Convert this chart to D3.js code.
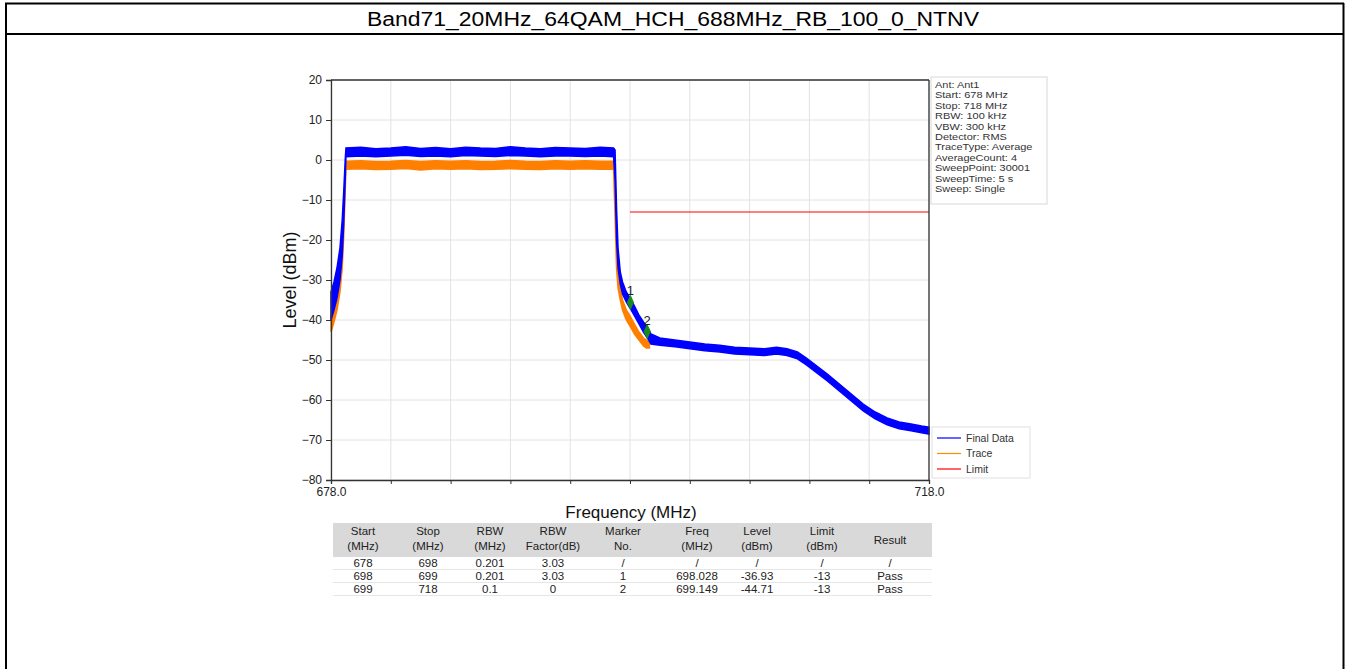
<!DOCTYPE html>
<html><head><meta charset="utf-8">
<script src="https://cdn.jsdelivr.net/npm/d3@7"></script>
<style>
html,body{margin:0;padding:0;background:#fff;}
svg{display:block;font-family:"Liberation Sans",Arial,sans-serif;}
</style></head>
<body><svg id="c" width="1346" height="669"></svg>
<script>
// ---------------- data ----------------
const title = "Band71_20MHz_64QAM_HCH_688MHz_RB_100_0_NTNV";
const yTicks = [-80,-70,-60,-50,-40,-30,-20,-10,0,10,20];
const xTicks = [678,682,686,690,694,698,702,706,710,714,718];
const xTickLabels = ["678.0","","","","","","","","","","718.0"];

// Final Data (blue) envelope of the noisy trace
const blueFreq = [678.0,678.2,678.4,678.6,678.75,678.85,678.95,679.0,680,681,682,683,684,685,686,687,688,689,690,691,692,693,694,695,696,696.9,697.0,697.1,697.2,697.35,697.5,697.75,698.0,698.3,698.6,698.9,699.2,699.4,700,701,702,703,704,705,706,707,707.8,708.5,709.2,709.8,710.5,711.2,712,712.8,713.6,714.4,715.2,716,716.8,717.5,718];
const blueHi = [-33,-30.5,-27,-22,-15,-8,0,3,3.2,2.8,3.0,3.3,2.9,3.1,2.8,3.2,3.0,2.9,3.3,3.0,2.8,3.1,3.0,2.9,3.2,3,2.5,-12,-22,-28,-30.5,-33,-34.5,-36.5,-38.8,-40.5,-42,-43.5,-44.5,-45,-45.5,-46,-46.3,-46.8,-47,-47.2,-46.8,-47.2,-48,-49.5,-51.5,-53.5,-56,-58.5,-61,-63,-64.5,-65.5,-66,-66.5,-66.8];
const blueLo = [-40,-37.5,-34.5,-30,-24,-16,-5,0.8,1.0,0.8,1.0,1.2,0.9,1.0,0.8,1.1,1.0,0.9,1.1,1.0,0.8,1.0,1.0,0.9,1.0,0.8,-5,-20,-27,-31,-33.5,-35.5,-37,-39,-41,-43,-44.7,-46,-46.3,-46.7,-47.2,-47.7,-48,-48.5,-48.7,-48.9,-48.5,-48.9,-49.7,-51.2,-53.2,-55.2,-57.7,-60.2,-62.7,-64.7,-66.2,-67.2,-67.7,-68.2,-68.5];

// Trace (orange) envelope
const orangeFreq = [678.0,678.2,678.4,678.6,678.75,678.85,678.95,679.0,680,681,682,683,684,685,686,687,688,689,690,691,692,693,694,695,696,696.9,697.0,697.1,697.2,697.35,697.5,697.75,698.0,698.3,698.6,698.9,699.1,699.3];
const orangeHi = [-39,-36,-33,-28,-21,-13,-4,-0.3,-0.2,-0.4,-0.3,-0.1,-0.4,-0.2,-0.3,-0.2,-0.4,-0.3,-0.1,-0.3,-0.4,-0.2,-0.3,-0.2,-0.3,-0.3,-8,-22,-28,-32,-35,-37.5,-39,-41,-43,-44.5,-45,-45.5];
const orangeLo = [-43,-40.5,-37.5,-33,-27,-19,-8,-2.3,-2.2,-2.4,-2.3,-2.1,-2.5,-2.2,-2.3,-2.2,-2.4,-2.3,-2.2,-2.3,-2.4,-2.2,-2.3,-2.2,-2.3,-2.3,-14,-27,-32,-35,-37.5,-40,-41.5,-43.5,-45,-46.5,-47,-47];

// Limit
const limitFreq = [698,718];
const limitLevel = [-13,-13];

// Markers
const markerNo = [1,2];
const markerFreq = [698.028,699.149];
const markerLevel = [-35.6,-42.9];

// Info box
const infoLines = ["Ant: Ant1","Start: 678 MHz","Stop: 718 MHz","RBW: 100 kHz","VBW: 300 kHz","Detector: RMS","TraceType: Average","AverageCount: 4","SweepPoint: 30001","SweepTime: 5 s","Sweep: Single"];

// Legend
const legendNames = ["Final Data","Trace","Limit"];
const legendColors = ["#0000ff","#ff8c00","#ff0000"];

// Table
const tableHeader = [["Start","(MHz)"],["Stop","(MHz)"],["RBW","(MHz)"],["RBW","Factor(dB)"],["Marker","No."],["Freq","(MHz)"],["Level","(dBm)"],["Limit","(dBm)"],["Result"]];
const tableRows = [
  ["678","698","0.201","3.03","/","/","/","/","/"],
  ["698","699","0.201","3.03","1","698.028","-36.93","-13","Pass"],
  ["699","718","0.1","0","2","699.149","-44.71","-13","Pass"]
];

// ---------------- drawing ----------------
const svg = d3.select("#c");
const W = 1346, H = 669;

// outer frame
svg.append("line").attr("x1",5).attr("x2",1344).attr("y1",3.5).attr("y2",3.5).attr("stroke","#000").attr("stroke-width",2);
svg.append("line").attr("x1",5).attr("x2",1344).attr("y1",34).attr("y2",34).attr("stroke","#000").attr("stroke-width",2);
svg.append("line").attr("x1",6).attr("x2",6).attr("y1",3).attr("y2",H).attr("stroke","#000").attr("stroke-width",2);
svg.append("line").attr("x1",1343.5).attr("x2",1343.5).attr("y1",3).attr("y2",H).attr("stroke","#000").attr("stroke-width",2);
svg.append("text").attr("x",673).attr("y",26).attr("text-anchor","middle")
  .attr("font-size",20).attr("textLength",612).attr("lengthAdjust","spacingAndGlyphs")
  .attr("fill","#000").text(title);

const x = d3.scaleLinear().domain([678,718]).range([331,929]);
const y = d3.scaleLinear().domain([-80,20]).range([480,80]);

// grid
const g = svg.append("g");
g.selectAll(".vg").data(xTicks).join("line")
  .attr("x1",d=>x(d)).attr("x2",d=>x(d)).attr("y1",y(20)).attr("y2",y(-80))
  .attr("stroke","#e2e2e2").attr("stroke-width",1);
g.selectAll(".hg").data(yTicks).join("line")
  .attr("x1",x(678)).attr("x2",x(718)).attr("y1",d=>y(d)).attr("y2",d=>y(d))
  .attr("stroke","#e2e2e2").attr("stroke-width",1);

// traces
const areaO = d3.area().x((d,i)=>x(orangeFreq[i])).y0((d,i)=>y(orangeLo[i])).y1((d,i)=>y(orangeHi[i]));
svg.append("path").datum(orangeFreq).attr("d",areaO).attr("fill","#ff8000").attr("stroke","#ff8000").attr("stroke-width",1.5);
const areaB = d3.area().x((d,i)=>x(blueFreq[i])).y0((d,i)=>y(blueLo[i])).y1((d,i)=>y(blueHi[i]));
svg.append("path").datum(blueFreq).attr("d",areaB).attr("fill","#0000ff").attr("stroke","#0000ff").attr("stroke-width",1.5);

// limit
svg.append("path").datum(limitFreq)
  .attr("d",d3.line().x((d,i)=>x(limitFreq[i])).y((d,i)=>y(limitLevel[i])))
  .attr("stroke","#ff0000").attr("stroke-width",1).attr("fill","none");

// markers
const sym = d3.symbol().type(d3.symbolDiamond).size(70);
markerNo.forEach((n,i)=>{
  svg.append("path").attr("d",sym).attr("transform",`translate(${x(markerFreq[i])},${y(markerLevel[i])}) scale(0.8,1)`)
    .attr("fill","#1a8c1a");
  svg.append("text").attr("x",x(markerFreq[i])).attr("y",y(markerLevel[i])-7).attr("text-anchor","middle")
    .attr("font-size",13).attr("fill","#222").text(n);
});

// axes
const yAxis = d3.axisLeft(y).tickValues(yTicks).tickSize(5).tickPadding(4);
const ya = svg.append("g").attr("transform",`translate(${x(678)},0)`).call(yAxis);
ya.selectAll("text").attr("font-size",12).attr("fill","#222").attr("font-family","Liberation Sans, Arial, sans-serif");
const xAxis = d3.axisBottom(x).tickValues(xTicks).tickSize(4).tickPadding(3).tickFormat((d,i)=>xTickLabels[i]);
const xa = svg.append("g").attr("transform",`translate(0,${y(-80)})`).call(xAxis);
xa.selectAll("text").attr("font-size",12).attr("fill","#222").attr("font-family","Liberation Sans, Arial, sans-serif");
[ya,xa].forEach(a=>{a.select(".domain").attr("stroke","#333").attr("stroke-width",1.3);a.selectAll(".tick line").attr("stroke","#333");});
// top and right spines
svg.append("line").attr("x1",x(678)).attr("x2",x(718)).attr("y1",y(20)).attr("y2",y(20)).attr("stroke","#333").attr("stroke-width",1.3);
svg.append("line").attr("x1",x(718)).attr("x2",x(718)).attr("y1",y(20)).attr("y2",y(-80)).attr("stroke","#333").attr("stroke-width",1.3);

// axis titles
svg.append("text").attr("transform","translate(296,280) rotate(-90)").attr("text-anchor","middle")
  .attr("font-size",18).attr("fill","#111").text("Level (dBm)");
svg.append("text").attr("x",631).attr("y",518).attr("text-anchor","middle")
  .attr("font-size",17).attr("fill","#111").text("Frequency (MHz)");

// info box
svg.append("rect").attr("x",931).attr("y",77).attr("width",116).attr("height",127)
  .attr("fill","#fff").attr("stroke","#d8d8d8");
const info = svg.append("g").attr("transform","translate(935,0) scale(1.22,1)");
infoLines.forEach((t,i)=>{
  info.append("text").attr("x",0).attr("y",88+i*10.4).attr("font-size",9).attr("fill","#333").text(t);
});

// legend
svg.append("rect").attr("x",932).attr("y",427).attr("width",98).attr("height",51)
  .attr("fill","#fff").attr("stroke","#e0e0e0");
legendNames.forEach((n,i)=>{
  const yy = 438+i*15.5;
  svg.append("line").attr("x1",937).attr("x2",961).attr("y1",yy).attr("y2",yy).attr("stroke",legendColors[i]).attr("stroke-width",1.2);
  svg.append("text").attr("x",966).attr("y",yy+3.5).attr("font-size",10.5).attr("fill","#333").text(n);
});

// table
const colX = [363,428,490,553,623,697,757,822,890];
svg.append("rect").attr("x",333).attr("y",523).attr("width",599).attr("height",34).attr("fill","#d9d9d9");
tableHeader.forEach((h,c)=>{
  if(h.length===2){
    svg.append("text").attr("x",colX[c]).attr("y",535).attr("text-anchor","middle").attr("font-size",11.5).attr("fill","#222").text(h[0]);
    svg.append("text").attr("x",colX[c]).attr("y",550).attr("text-anchor","middle").attr("font-size",11.5).attr("fill","#222").text(h[1]);
  } else {
    svg.append("text").attr("x",colX[c]).attr("y",544).attr("text-anchor","middle").attr("font-size",11.5).attr("fill","#222").text(h[0]);
  }
});
tableRows.forEach((r,ri)=>{
  const yy = 567+ri*13;
  r.forEach((v,c)=>{
    svg.append("text").attr("x",colX[c]).attr("y",yy).attr("text-anchor","middle").attr("font-size",11.5).attr("fill","#222").text(v);
  });
  svg.append("line").attr("x1",333).attr("x2",932).attr("y1",yy+2.5).attr("y2",yy+2.5).attr("stroke","#e6e6e6");
});
</script></body></html>
